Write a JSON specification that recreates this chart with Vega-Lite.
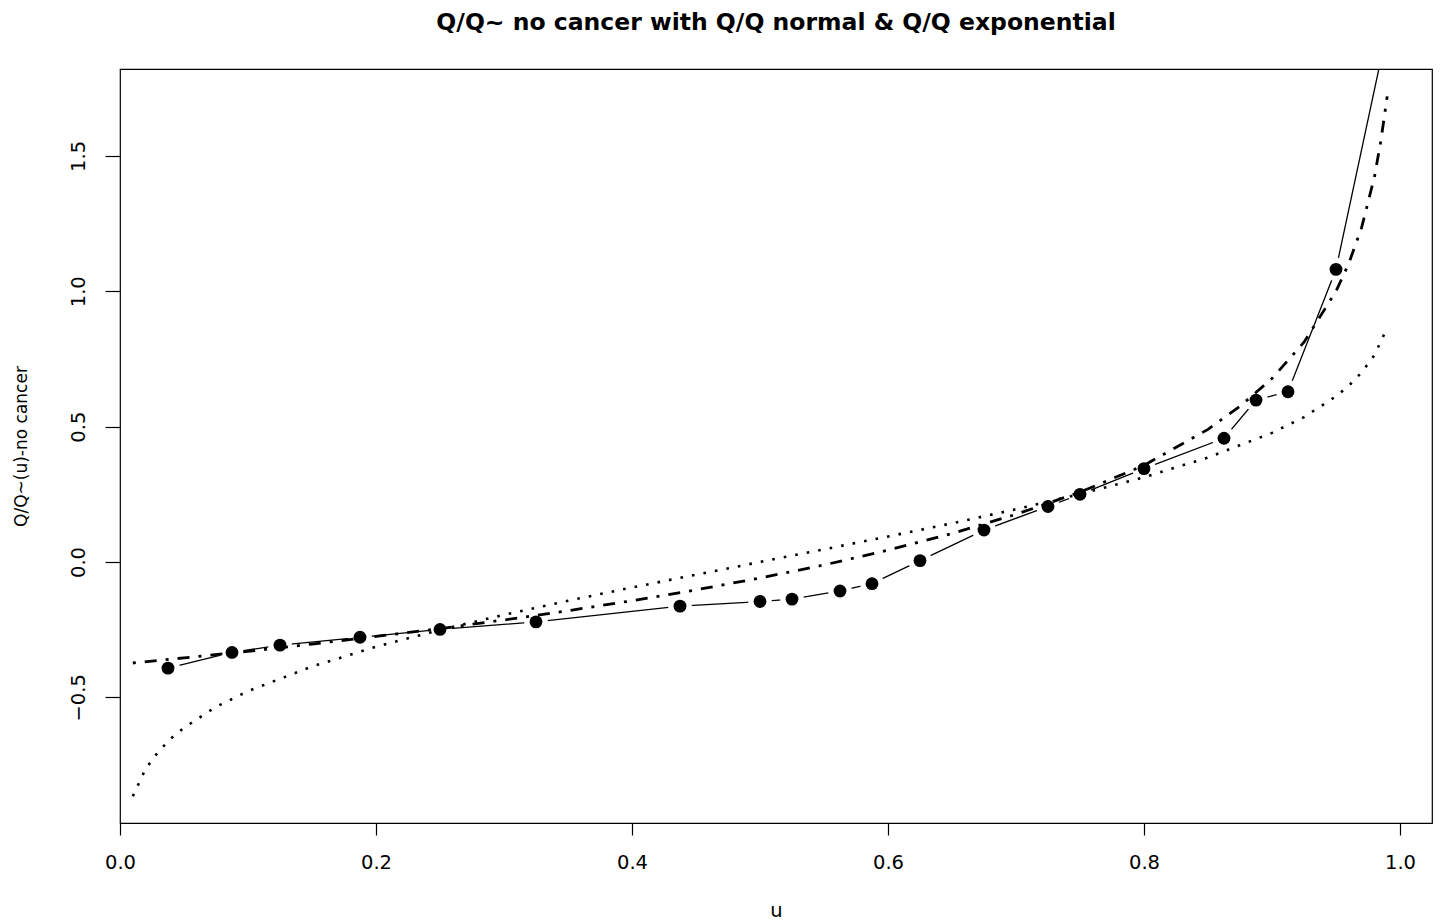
{
  "$schema": "https://vega.github.io/schema/vega-lite/v6.json",
  "width": 1312,
  "height": 754,
  "autosize": "none",
  "padding": {"left": 120, "top": 69, "right": 9, "bottom": 101},
  "background": "white",
  "config": {"view": {"stroke": "black", "strokeWidth": 1.2}, "font": "DejaVu Sans"},
  "title": {"text": "Q/Q~ no cancer with Q/Q normal & Q/Q exponential", "fontSize": 23.5, "fontWeight": "bold", "font": "DejaVu Sans", "anchor": "middle", "offset": 35, "color": "black"},
  "datasets": {
    "obs": [
      {"u": 0.0375, "y": -0.392}, {"u": 0.0875, "y": -0.334}, {"u": 0.125, "y": -0.307}, {"u": 0.1875, "y": -0.278},
      {"u": 0.25, "y": -0.249}, {"u": 0.325, "y": -0.221}, {"u": 0.4375, "y": -0.163}, {"u": 0.5, "y": -0.146},
      {"u": 0.525, "y": -0.137}, {"u": 0.5625, "y": -0.107}, {"u": 0.5875, "y": -0.080}, {"u": 0.625, "y": 0.005},
      {"u": 0.675, "y": 0.118}, {"u": 0.725, "y": 0.205}, {"u": 0.75, "y": 0.250}, {"u": 0.8, "y": 0.345},
      {"u": 0.8625, "y": 0.457}, {"u": 0.8875, "y": 0.598}, {"u": 0.9125, "y": 0.629}, {"u": 0.95, "y": 1.081},
      {"u": 0.9875, "y": 1.91}
    ],
    "normal": [
      {"u": 0.01, "y": -0.865}, {"u": 0.02, "y": -0.764}, {"u": 0.03, "y": -0.700}, {"u": 0.04, "y": -0.651},
      {"u": 0.05, "y": -0.612}, {"u": 0.075, "y": -0.535}, {"u": 0.1, "y": -0.477}, {"u": 0.15, "y": -0.386},
      {"u": 0.2, "y": -0.313}, {"u": 0.25, "y": -0.251}, {"u": 0.3, "y": -0.195}, {"u": 0.35, "y": -0.143},
      {"u": 0.4, "y": -0.094}, {"u": 0.45, "y": -0.047}, {"u": 0.5, "y": 0.0}, {"u": 0.55, "y": 0.047},
      {"u": 0.6, "y": 0.094}, {"u": 0.65, "y": 0.143}, {"u": 0.7, "y": 0.195}, {"u": 0.75, "y": 0.251},
      {"u": 0.8, "y": 0.313}, {"u": 0.85, "y": 0.386}, {"u": 0.9, "y": 0.477}, {"u": 0.925, "y": 0.535},
      {"u": 0.95, "y": 0.612}, {"u": 0.96, "y": 0.651}, {"u": 0.97, "y": 0.700}, {"u": 0.98, "y": 0.764},
      {"u": 0.99, "y": 0.865}
    ],
    "expo": [
      {"u": 0.01, "y": -0.373}, {"u": 0.05, "y": -0.354}, {"u": 0.1, "y": -0.330}, {"u": 0.15, "y": -0.303},
      {"u": 0.2, "y": -0.275}, {"u": 0.25, "y": -0.246}, {"u": 0.3, "y": -0.214}, {"u": 0.35, "y": -0.180},
      {"u": 0.4, "y": -0.143}, {"u": 0.45, "y": -0.103}, {"u": 0.5, "y": -0.059}, {"u": 0.55, "y": -0.011},
      {"u": 0.6, "y": 0.044}, {"u": 0.65, "y": 0.105}, {"u": 0.7, "y": 0.176}, {"u": 0.75, "y": 0.258},
      {"u": 0.8, "y": 0.357}, {"u": 0.85, "y": 0.490}, {"u": 0.875, "y": 0.575}, {"u": 0.9, "y": 0.678},
      {"u": 0.925, "y": 0.812}, {"u": 0.95, "y": 1.000}, {"u": 0.96, "y": 1.103}, {"u": 0.97, "y": 1.235},
      {"u": 0.98, "y": 1.422}, {"u": 0.985, "y": 1.554}, {"u": 0.99, "y": 1.720}
    ],
    "hlines": [{"y": -0.5}, {"y": 0}, {"y": 0.5}, {"y": 1.0}, {"y": 1.5}],
    "vlines": [{"u": 0.25}, {"u": 0.5}, {"u": 0.75}]
  },
  "encoding": {
    "x": {
      "field": "u", "type": "quantitative",
      "scale": {"domain": [0, 1.025], "nice": false, "zero": false},
      "axis": {
        "values": [0, 0.2, 0.4, 0.6, 0.8, 1.0], "format": ".1f", "title": "u",
        "domain": false, "grid": false, "tickColor": "black", "tickSize": 12, "tickWidth": 1.2,
        "labelFontSize": 19.5, "labelColor": "black", "labelFont": "DejaVu Sans", "labelPadding": 18, "labelFlush": false,
        "titleFontSize": 19.5, "titleFontWeight": "normal", "titleColor": "black", "titleFont": "DejaVu Sans", "titlePadding": 30
      }
    },
    "y": {
      "field": "y", "type": "quantitative",
      "scale": {"domain": [-0.964, 1.821], "nice": false, "zero": false},
      "axis": {
        "values": [-0.5, 0, 0.5, 1.0, 1.5], "format": ".1f", "title": "Q/Q~(u)-no cancer",
        "domain": false, "grid": false, "tickColor": "black", "tickSize": 15, "tickWidth": 1.2,
        "labelAngle": 270, "labelAlign": "center", "labelBaseline": "bottom", "labelPadding": 17,
        "labelFontSize": 19.5, "labelColor": "black", "labelFont": "DejaVu Sans", "labelFlush": false,
        "titleFontSize": 17, "titleFontWeight": "normal", "titleColor": "black", "titleFont": "DejaVu Sans", "titlePadding": 38
      }
    }
  },
  "layer": [
    {
      "data": {"name": "obs"},
      "mark": {"type": "line", "color": "black", "strokeWidth": 1.3, "clip": true}
    },
    {
      "data": {"name": "obs"},
      "mark": {"type": "point", "filled": true, "color": "white", "opacity": 1, "size": 560, "clip": true}
    },
    {
      "data": {"name": "hlines"},
      "mark": {"type": "rule", "color": "black", "strokeWidth": 1.3},
      "encoding": {"x": {"datum": 0}, "x2": {"datum": 1.0}}
    },
    {
      "data": {"name": "vlines"},
      "mark": {"type": "rule", "color": "black", "strokeWidth": 1.3, "strokeDash": [6.5, 5.5]},
      "encoding": {"y": {"datum": -0.862}, "y2": {"datum": 1.718}}
    },
    {
      "data": {"name": "normal"},
      "mark": {"type": "line", "color": "black", "strokeWidth": 2.6, "strokeDash": [2.6, 9.1], "clip": true}
    },
    {
      "data": {"name": "expo"},
      "mark": {"type": "line", "color": "black", "strokeWidth": 2.8, "strokeDash": [3, 9, 12, 9], "clip": true}
    },
    {
      "data": {"name": "obs"},
      "mark": {"type": "point", "filled": true, "color": "black", "opacity": 1, "size": 165, "clip": true}
    }
  ]
}
